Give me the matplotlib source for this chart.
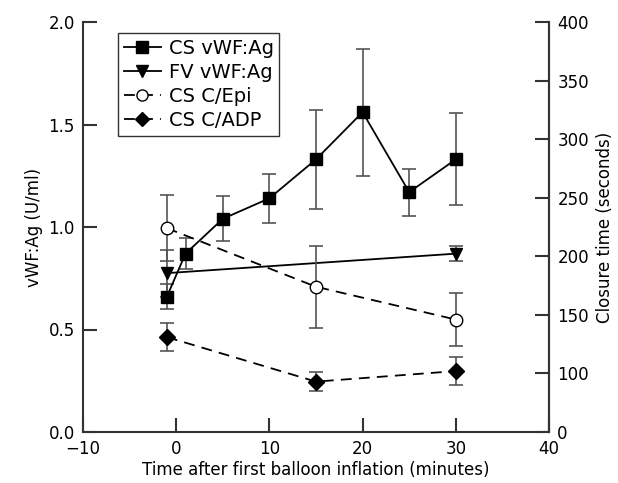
import matplotlib
matplotlib.use('Agg')
import matplotlib.pyplot as plt
from matplotlib.lines import Line2D

# data
t_cs = [-1, 1, 5, 10, 15, 20, 25, 30]
cs_vwf = [0.66, 0.87, 1.04, 1.14, 1.33, 1.56, 1.17, 1.33]
cs_vwf_err = [0.06, 0.075, 0.11, 0.12, 0.24, 0.31, 0.115, 0.225]

t_fv = [-1, 30]
fv_vwf = [0.775, 0.87]
fv_vwf_err = [0.115, 0.035]

t_ct = [-1, 15, 30]
cs_epi = [224, 174, 146]
cs_epi_err = [28, 35, 23]
cs_adp = [131, 93, 102]
cs_adp_err = [12, 8, 12]

right_ticks = [50, 100, 150, 200, 250, 300, 350, 400]
right_labels = ['0', '100', '150', '200', '250', '300', '350', '400']

plt.rcParams['font.family'] = ['DejaVu Sans']
plt.rcParams['font.size'] = 12

fig = plt.figure(figsize=(6.18, 4.83), dpi=100)
ax = fig.add_axes([83/618, 51/483, 466/618, 410/483])
ax2 = ax.twinx()

ecol = '#555555'
eb = dict(ecolor=ecol, elinewidth=1.2, capsize=5, capthick=1.2)
dash = (0, (6, 4))

ax.errorbar(t_cs, cs_vwf, yerr=cs_vwf_err, color='black', lw=1.3,
            marker='s', ms=9, **eb)
ax.errorbar(t_fv, fv_vwf, yerr=fv_vwf_err, color='black', lw=1.3,
            marker='v', ms=9, **eb)
ax2.errorbar(t_ct, cs_epi, yerr=cs_epi_err, color='black', lw=1.3,
             ls=dash, marker='o', ms=9, mfc='white', **eb)
ax2.errorbar(t_ct, cs_adp, yerr=cs_adp_err, color='black', lw=1.3,
             ls=dash, marker='D', ms=8, **eb)

ax.set_xlim(-10, 40)
ax.set_ylim(0, 2.0)
ax.set_xticks([-10, 0, 10, 20, 30, 40])
ax.set_yticks([0, 0.5, 1.0, 1.5, 2.0])
ax.set_yticklabels(['0.0', '0.5', '1.0', '1.5', '2.0'])
ax2.set_ylim(50, 400)
ax2.set_yticks(right_ticks)
ax2.set_yticklabels(right_labels)

for a in (ax, ax2):
    a.spines['top'].set_visible(False)
    for s in a.spines.values():
        s.set_color('#333333')
        s.set_linewidth(1.5)
    a.tick_params(direction='in', length=10, width=1.5, color='#333333',
                  pad=6)
ax2.spines['left'].set_visible(False)
ax2.spines['bottom'].set_visible(False)
ax.tick_params(axis='x', pad=6)

ax.set_xlabel('Time after first balloon inflation (minutes)', labelpad=2)
ax.set_ylabel('vWF:Ag (U/ml)', labelpad=4)
ax2.set_ylabel('Closure time (seconds)', labelpad=5)

handles = [
    Line2D([], [], color='black', lw=1.3, marker='s', ms=9),
    Line2D([], [], color='black', lw=1.3, marker='v', ms=9),
    Line2D([], [], color='black', lw=1.3, ls=dash, marker='o', ms=8, mfc='white'),
    Line2D([], [], color='black', lw=1.3, ls=dash, marker='D', ms=7),
]
ax.legend(handles, ['CS vWF:Ag', 'FV vWF:Ag', 'CS C/Epi', 'CS C/ADP'],
          loc='upper left', bbox_to_anchor=(0.075, 0.973), borderaxespad=0,
          fancybox=False, edgecolor='#333333', framealpha=1,
          handlelength=1.9, borderpad=0.3, labelspacing=0.26,
          handletextpad=0.4, fontsize=14)

plt.savefig('out.png', dpi=100)
